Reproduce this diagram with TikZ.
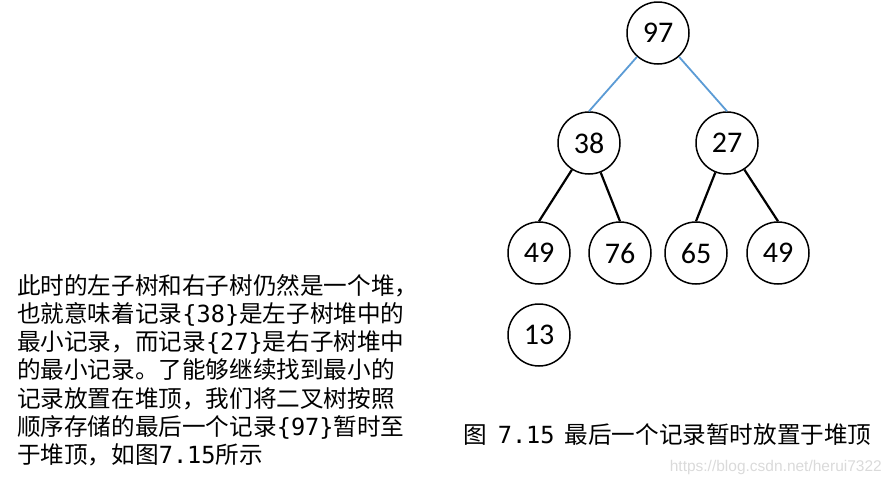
\documentclass[tikz,border=0pt]{standalone}
\usepackage{fontspec}
\setmainfont{Noto Sans CJK SC}
\newfontfamily\numfont{Carlito}
\newfontfamily\monof{DejaVu Sans Mono}
\newfontfamily\wmfont{Liberation Sans}
\definecolor{edgeblue}{HTML}{5B9BD5}
\definecolor{wmgray}{HTML}{DADADA}
\tikzset{
  heapnode/.style={circle, draw=black, line width=1.5pt, minimum size=62pt, inner sep=0pt, font=\numfont\fontsize{30}{32}\selectfont},
  blueedge/.style={draw=edgeblue, line width=1.8pt},
  blackedge/.style={draw=black, line width=2.2pt},
  bodyline/.style={anchor=base west, inner sep=0pt, font=\fontsize{23.6}{28}\selectfont},
}
\newcommand{\mono}[1]{{\monof #1}}
\begin{document}
\begin{tikzpicture}[x=1pt,y=-1pt]
\useasboundingbox (0,0) rectangle (892,485);
% tree
\node[heapnode] (n97) at (658,33) {97};
\node[heapnode] (n38) at (589,143) {38};
\node[heapnode] (n27) at (727,143) {27};
\node[heapnode] (n49a) at (539,253) {49};
\node[heapnode] (n76) at (620,253) {76};
\node[heapnode] (n65) at (696,253) {65};
\node[heapnode] (n49b) at (778,253) {49};
\node[heapnode] (n13) at (539,335) {13};
\draw[blueedge] (n97) -- (n38.north);
\draw[blueedge] (n97) -- (n27.north);
\draw[blackedge] (n38) -- (n49a.north);
\draw[blackedge] (n38) -- (n76.north);
\draw[blackedge] (n27) -- (n65.north);
\draw[blackedge] (n27) -- (n49b.north);
% left text
\node[bodyline] (l1) at (17,294) {此时的左子树和右子树仍然是一个堆，};
\node[bodyline] (l2) at (17,322.3) {也就意味着记录\mono{\{38\}}是左子树堆中的};
\node[bodyline] (l3) at (17,350.6) {最小记录，而记录\mono{\{27\}}是右子树堆中};
\node[bodyline] (l4) at (17,378.9) {的最小记录。了能够继续找到最小的};
\node[bodyline] (l5) at (17,407.2) {记录放置在堆顶，我们将二叉树按照};
\node[bodyline] (l6) at (17,435.5) {顺序存储的最后一个记录\mono{\{97\}}暂时至};
\node[bodyline] (l7) at (17,463.8) {于堆顶，如图\mono{7.15}所示};
% caption
\node[anchor=base west, inner sep=0pt, font=\fontsize{23.6}{28}\selectfont] (cap) at (463,443) {图\hspace{11pt}\mono{7.15}\hspace{10pt}最后一个记录暂时放置于堆顶};
% watermark
\node[anchor=base east, inner sep=0pt, text=wmgray, font=\wmfont\fontsize{15.5}{18}\selectfont] (wm) at (882,471) {https://blog.csdn.net/herui7322};
\end{tikzpicture}
\end{document}
